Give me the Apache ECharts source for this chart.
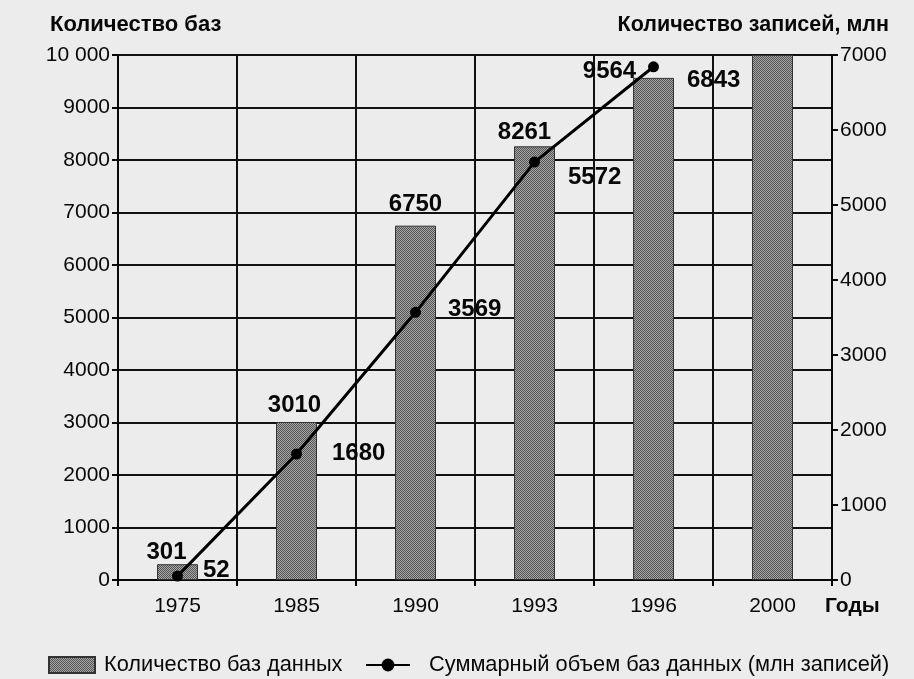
<!DOCTYPE html>
<html><head><meta charset="utf-8">
<script src="https://cdn.jsdelivr.net/npm/echarts@6/dist/echarts.min.js"></script>
<style>html,body{margin:0;padding:0;background:#ececec;}#c{width:914px;height:679px;}</style>
</head><body><div id="c"></div>
<script>
// ---- data ----
const years = ['1975', '1985', '1990', '1993', '1996', '2000'];
const dbCounts = [301, 3010, 6750, 8261, 9564, 10000];
const recordsMln = [52, 1680, 3569, 5572, 6843, null];
const leftTickLabels = ['0','1000','2000','3000','4000','5000','6000','7000','8000','9000','10 000'];
const rightTickLabels = ['0','1000','2000','3000','4000','5000','6000','7000'];
const barName = 'Количество баз данных';
const lineName = 'Суммарный объем баз данных (млн записей)';
const leftTitle = 'Количество баз';
const rightTitle = 'Количество записей, млн';
const xTitle = 'Годы';

// ---- styles ----
const FONT = '"Liberation Sans", Arial, Helvetica, sans-serif';
const INK = '#080808';
const barLabelOffsets = [[-11, 5], [-2, 0], [0, -4], [-10, 3], [-44, 10], null];
const lineLabelOffsets = [[20, -6], [30, -1], [27, -3], [28, 15], [28, 14], null];

function makePattern() {
  const c = document.createElement('canvas');
  c.width = 2; c.height = 2;
  const g = c.getContext('2d');
  g.fillStyle = '#a6a6a6'; g.fillRect(0, 0, 2, 2);
  g.fillStyle = '#555555'; g.fillRect(0, 0, 1, 1); g.fillRect(1, 1, 1, 1);
  return c;
}
const pattern = { image: makePattern(), repeat: 'repeat' };

const barData = dbCounts.map((v, i) => {
  const off = barLabelOffsets[i];
  return {
    value: v,
    label: off ? { show: true, offset: off } : { show: false }
  };
});
const lineData = recordsMln.map((v, i) => {
  const off = lineLabelOffsets[i];
  return {
    value: v,
    label: off ? { show: true, offset: off } : { show: false }
  };
});

const chart = echarts.init(document.getElementById('c'), null, { renderer: 'canvas' });
chart.setOption({
  backgroundColor: '#ececec',
  animation: false,
  textStyle: { fontFamily: FONT, color: INK },
  grid: { left: 118, right: 82, top: 55, bottom: 99 },
  legend: [
    {
      left: 48, top: 654, padding: 0, itemWidth: 46, itemHeight: 16,
      data: [{ name: barName, icon: 'rect' }],
      textStyle: { fontFamily: FONT, fontSize: 21.8, color: INK, padding: [0, 0, 0, 4] }
    },
    {
      left: 365, top: 654, padding: 0, itemWidth: 44, itemHeight: 16,
      data: [lineName],
      textStyle: { fontFamily: FONT, fontSize: 21.8, color: INK, padding: [0, 0, 0, 14] }
    }
  ],
  xAxis: {
    type: 'category',
    data: years,
    axisLine: { lineStyle: { color: INK, width: 2 } },
    axisTick: { show: true, length: 6, lineStyle: { color: INK, width: 2 } },
    axisLabel: { fontFamily: FONT, fontSize: 21, color: INK, margin: 16 },
    splitLine: { show: true, lineStyle: { color: '#111', width: 2 } }
  },
  yAxis: [
    {
      type: 'value', min: 0, max: 10000, interval: 1000, position: 'left',
      axisLine: { show: true, lineStyle: { color: INK, width: 2 } },
      axisTick: { show: true, length: 6, lineStyle: { color: INK, width: 2 } },
      axisLabel: {
        fontFamily: FONT, fontSize: 21, color: INK, margin: 8,
        formatter: v => leftTickLabels[Math.round(v / 1000)]
      },
      splitLine: { show: true, lineStyle: { color: '#111', width: 2 } }
    },
    {
      type: 'value', min: 0, max: 7000, interval: 1000, position: 'right',
      axisLine: { show: true, lineStyle: { color: INK, width: 2 } },
      axisTick: { show: true, length: 6, lineStyle: { color: INK, width: 2 } },
      axisLabel: {
        fontFamily: FONT, fontSize: 21, color: INK, margin: 8,
        formatter: v => rightTickLabels[Math.round(v / 1000)]
      },
      splitLine: { show: false }
    }
  ],
  series: [
    {
      name: barName, type: 'bar', yAxisIndex: 0, barWidth: 41,
      data: barData,
      itemStyle: { color: pattern, borderColor: '#333', borderWidth: 1 },
      label: {
        position: 'top', distance: 5, fontFamily: FONT, fontSize: 24,
        fontWeight: 'bold', color: INK
      },
      z: 2
    },
    {
      name: lineName, type: 'line', yAxisIndex: 1,
      data: lineData, connectNulls: false,
      symbol: 'circle', symbolSize: 11,
      lineStyle: { color: '#000', width: 3 },
      itemStyle: { color: '#000' },
      label: {
        position: 'right', distance: 0, fontFamily: FONT, fontSize: 24,
        fontWeight: 'bold', color: INK
      },
      z: 3
    }
  ],
  graphic: [
    { type: 'text', left: 50, top: 14,
      style: { text: leftTitle, font: 'bold 22px ' + FONT, fill: INK } },
    { type: 'text', right: 25, top: 14,
      style: { text: rightTitle, font: 'bold 21.5px ' + FONT, fill: INK } },
    { type: 'text', left: 825, top: 596,
      style: { text: xTitle, font: 'bold 21px ' + FONT, fill: INK } }
  ]
});
</script></body></html>
